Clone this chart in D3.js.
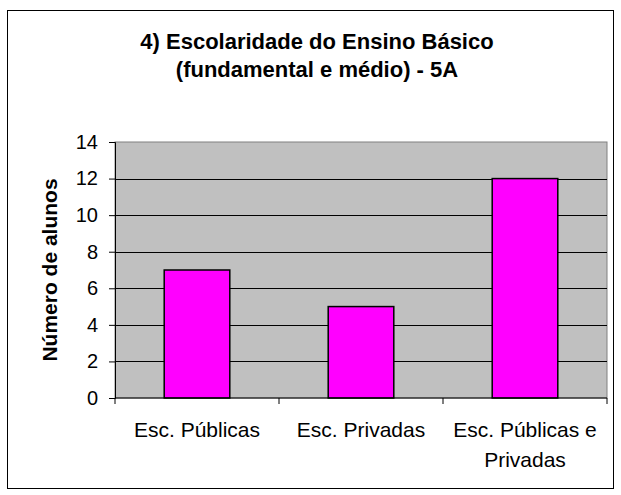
<!DOCTYPE html>
<html>
<head>
<meta charset="utf-8">
<script src="https://cdn.jsdelivr.net/npm/d3@7"></script>
<style>
  body { margin: 0; background: #fff; }
  text { font-family: "Liberation Sans", Arial, sans-serif; }
</style>
</head>
<body>
<script>
// dados do grafico
var categorias = [["Esc. Públicas"], ["Esc. Privadas"], ["Esc. Públicas e", "Privadas"]];
var alunos = [7, 5, 12];
var yTicks = [0, 2, 4, 6, 8, 10, 12, 14];
var titulo = ["4) Escolaridade do Ensino Básico", "(fundamental e médio) - 5A"];

var w = 621, h = 495;
var plot = { left: 115, top: 142, right: 607, bottom: 398 };

var svg = d3.select("body").append("svg")
  .attr("width", w)
  .attr("height", h);

// moldura externa
svg.append("rect")
  .attr("x", 7.5).attr("y", 10.5)
  .attr("width", 606).attr("height", 478)
  .attr("fill", "#fff").attr("stroke", "#000").attr("stroke-width", 1);

// titulo
svg.append("g").selectAll("text")
  .data(titulo)
  .enter().append("text")
  .attr("x", 317)
  .attr("y", function (d, i) { return 49 + i * 28; })
  .attr("text-anchor", "middle")
  .attr("font-weight", "bold")
  .attr("font-size", 22)
  .text(function (d) { return d; });

var x = d3.scaleBand()
  .domain(d3.range(alunos.length))
  .range([plot.left, plot.right])
  .paddingInner(0.6)
  .paddingOuter(0.3);

var xCat = d3.scaleBand()
  .domain(d3.range(alunos.length))
  .range([plot.left, plot.right]);

var y = d3.scaleLinear()
  .domain([0, 14])
  .range([plot.bottom, plot.top]);

// area do grafico
svg.append("rect")
  .attr("x", plot.left).attr("y", plot.top)
  .attr("width", plot.right - plot.left).attr("height", plot.bottom - plot.top)
  .attr("fill", "#c0c0c0").attr("stroke", "#808080").attr("stroke-width", 1);

// linhas de grade
svg.append("g").selectAll("line")
  .data(yTicks.filter(function (d) { return d > 0 && d < 14; }))
  .enter().append("line")
  .attr("x1", plot.left).attr("x2", plot.right)
  .attr("y1", function (d) { return Math.round(y(d)) + 0.5; })
  .attr("y2", function (d) { return Math.round(y(d)) + 0.5; })
  .attr("stroke", "#000").attr("stroke-width", 1);

// barras
svg.append("g").selectAll("rect")
  .data(alunos)
  .enter().append("rect")
  .attr("x", function (d, i) { return x(i); })
  .attr("y", function (d) { return y(d); })
  .attr("width", x.bandwidth())
  .attr("height", function (d) { return y(0) - y(d); })
  .attr("fill", "#ff00ff")
  .attr("stroke", "#000").attr("stroke-width", 1.5);

// eixo y
var yAxis = svg.append("g")
  .attr("transform", "translate(" + plot.left + ",0)")
  .call(d3.axisLeft(y).tickValues(yTicks).tickSize(6).tickPadding(11));
yAxis.selectAll("text").attr("font-size", 20).attr("fill", "#000")
  .style("font-family", "'Liberation Sans', Arial, sans-serif");
yAxis.selectAll("line, path").attr("stroke", "#000");

// eixo x
var xAxis = svg.append("g")
  .attr("transform", "translate(0," + plot.bottom + ")");
xAxis.append("line")
  .attr("x1", plot.left).attr("x2", plot.right)
  .attr("stroke", "#000");
xAxis.selectAll(".tk")
  .data(d3.range(alunos.length + 1))
  .enter().append("line")
  .attr("class", "tk")
  .attr("x1", function (d) { return d < alunos.length ? xCat(d) : plot.right; })
  .attr("x2", function (d) { return d < alunos.length ? xCat(d) : plot.right; })
  .attr("y1", 0).attr("y2", 6)
  .attr("stroke", "#000");

xAxis.selectAll(".lbl")
  .data(categorias)
  .enter().append("text")
  .attr("class", "lbl")
  .attr("x", function (d, i) { return xCat(i) + xCat.bandwidth() / 2; })
  .attr("y", 39)
  .attr("text-anchor", "middle")
  .attr("font-size", 21)
  .selectAll("tspan")
  .data(function (d) { return d; })
  .enter().append("tspan")
  .attr("x", function () { return d3.select(this.parentNode).attr("x"); })
  .attr("dy", function (d, i) { return i === 0 ? 0 : 30; })
  .text(function (d) { return d; });

// titulo do eixo y
svg.append("text")
  .attr("transform", "translate(57," + ((plot.top + plot.bottom) / 2) + ") rotate(-90)")
  .attr("text-anchor", "middle")
  .attr("font-weight", "bold")
  .attr("font-size", 21)
  .text("Número de alunos");
</script>
</body>
</html>
